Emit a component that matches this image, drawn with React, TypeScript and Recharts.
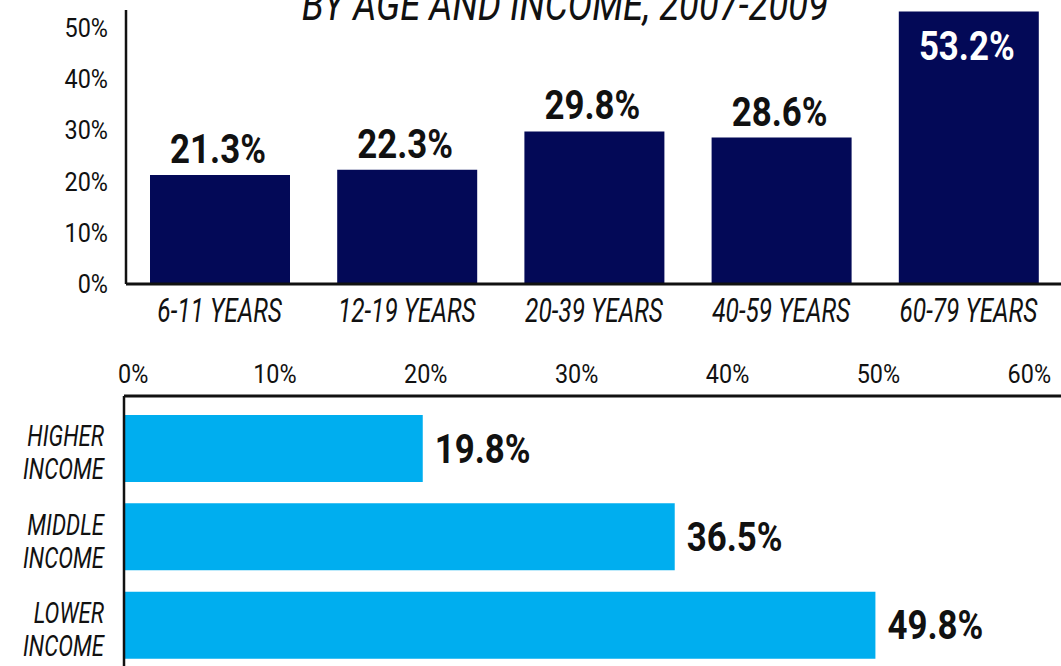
import React from 'react'
import { BarChart, Bar, XAxis, YAxis, LabelList } from 'recharts'

const title = 'BY AGE AND INCOME, 2007-2009'

const ageGroups = ['6-11 YEARS', '12-19 YEARS', '20-39 YEARS', '40-59 YEARS', '60-79 YEARS']
const ageValues = [21.3, 22.3, 29.8, 28.6, 53.2]
const ageTicks = [0, 10, 20, 30, 40, 50]

const incomeGroups = ['HIGHER\nINCOME', 'MIDDLE\nINCOME', 'LOWER\nINCOME']
const incomeValues = [19.8, 36.5, 49.8]
const incomeTicks = [0, 10, 20, 30, 40, 50, 60]

const ageData = ageGroups.map((group, i) => ({ group, value: ageValues[i] }))
const incomeData = incomeGroups.map((group, i) => ({ group, value: incomeValues[i] }))

const FONT = 'Roboto, "Liberation Sans", sans-serif'
const NAVY = '#030957'
const CYAN = '#00aeef'
const INK = '#111'

// condensed text: the source font is a narrow one, so squeeze a normal font
function Squeezed({ x, y, sx, size, weight = 400, italic = false, fill = INK, anchor = 'middle', children }: any) {
  return (
    <text
      transform={`translate(${x},${y}) scale(${sx},1)`}
      textAnchor={anchor}
      fontFamily={FONT}
      fontSize={size}
      fontWeight={weight}
      fontStyle={italic ? 'italic' : 'normal'}
      fill={fill}
    >
      {children}
    </text>
  )
}

const pct = (v: number) => `${v}%`

function AgeYTick({ x, y, payload }: any) {
  return <Squeezed x={x - 10} y={y + 9} sx={0.9} size={26} anchor="end">{pct(payload.value)}</Squeezed>
}

function AgeXTick({ x, y, payload }: any) {
  return <Squeezed x={x} y={y + 30} sx={0.72} size={34} italic>{payload.value}</Squeezed>
}

function IncomeXTick({ x, y, payload }: any) {
  // the 0% label sits just right of the axis line in the source
  const first = payload.value === 0
  return (
    <Squeezed x={first ? x - 6 : x} y={y - 5} sx={0.9} size={26} anchor={first ? 'start' : 'middle'}>
      {pct(payload.value)}
    </Squeezed>
  )
}

function IncomeYTick({ x, y, payload }: any) {
  const lines = String(payload.value).split('\n')
  return (
    <g>
      {lines.map((line, i) => (
        <Squeezed key={i} x={x - 12} y={y - 2 + i * 33} sx={0.74} size={30} italic anchor="end">
          {line}
        </Squeezed>
      ))}
    </g>
  )
}

const ageLabel = (props: any) => {
  const { x, y, width, value } = props
  const inside = Number(value) > 50
  return (
    <Squeezed
      x={Number(x) + Number(width) / 2 - 2}
      y={inside ? Number(y) + 48 : Number(y) - 12}
      sx={0.85}
      size={41}
      weight={700}
      fill={inside ? '#fff' : INK}
    >
      {Number(value).toFixed(1)}%
    </Squeezed>
  )
}

const incomeLabel = (props: any) => {
  const { x, y, width, height, value } = props
  return (
    <Squeezed
      x={Number(x) + Number(width) + 12}
      y={Number(y) + Number(height) / 2 + 14}
      sx={0.85}
      size={41}
      weight={700}
      anchor="start"
    >
      {Number(value).toFixed(1)}%
    </Squeezed>
  )
}

export default function App() {
  return (
    <div style={{ position: 'absolute', left: 0, top: 0, width: 1061, height: 666, overflow: 'hidden', background: '#fff' }}>
      <svg width={1061} height={40} style={{ position: 'absolute', left: 0, top: 0 }}>
        <Squeezed x={565} y={20} sx={0.83} size={44} italic>{title}</Squeezed>
      </svg>

      <div style={{ position: 'absolute', left: 0, top: 0 }}>
        <BarChart width={1070} height={334} data={ageData} margin={{ top: 10, right: 8, bottom: 0, left: 0 }}>
          <XAxis
            dataKey="group"
            height={50}
            tickLine={false}
            axisLine={{ stroke: INK, strokeWidth: 3 }}
            tick={<AgeXTick />}
            interval={0}
          />
          <YAxis
            width={126}
            domain={[0, 53.5]}
            ticks={ageTicks}
            tickLine={false}
            axisLine={{ stroke: INK, strokeWidth: 2.5 }}
            tick={<AgeYTick />}
            allowDataOverflow
          />
          <Bar dataKey="value" fill={NAVY} barSize={140} isAnimationActive={false}>
            <LabelList dataKey="value" content={ageLabel} />
          </Bar>
        </BarChart>
      </div>

      <div style={{ position: 'absolute', left: 0, top: 340 }}>
        <BarChart
          layout="vertical"
          width={1061}
          height={330}
          data={incomeData}
          margin={{ top: 0, right: 0, bottom: 1, left: 0 }}
        >
          <XAxis
            type="number"
            orientation="top"
            height={56}
            domain={[0, 62.1]}
            ticks={incomeTicks}
            tickLine={false}
            axisLine={{ stroke: INK, strokeWidth: 3 }}
            tick={<IncomeXTick />}
            allowDataOverflow
          />
          <YAxis
            type="category"
            dataKey="group"
            width={124}
            padding={{ top: 8, bottom: 0 }}
            tickLine={false}
            axisLine={{ stroke: INK, strokeWidth: 2.5 }}
            tick={<IncomeYTick />}
            interval={0}
          />
          <Bar dataKey="value" fill={CYAN} barSize={67} isAnimationActive={false}>
            <LabelList dataKey="value" content={incomeLabel} />
          </Bar>
        </BarChart>
      </div>
    </div>
  )
}
